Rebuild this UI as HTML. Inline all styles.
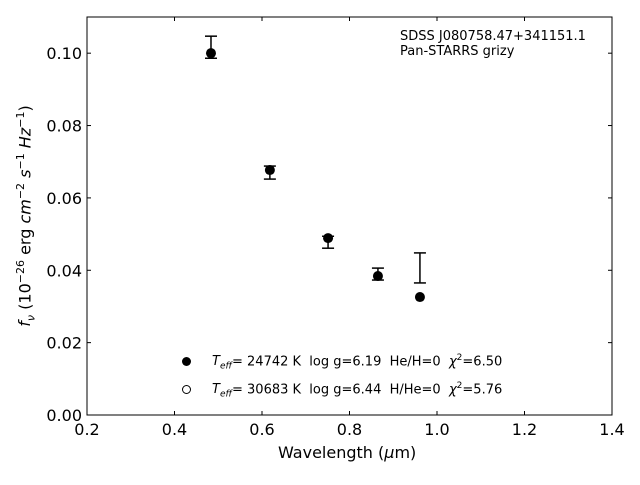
<!DOCTYPE html>
<html><head><meta charset="utf-8"><style>
body{margin:0;background:#fff;}
svg{font-family:"DejaVu Sans","Liberation Sans",sans-serif;}
</style></head><body>
<svg id="chart" width="640" height="480"></svg>
<script>
const wavelengths=[0.4834,0.618,0.751,0.865,0.961];
const modelFlux=[0.100,0.0677,0.0489,0.0384,0.0326];
const errLow=[0.0986,0.0652,0.0461,0.0373,0.0365];
const errHigh=[0.1047,0.0688,0.0494,0.0406,0.0448];
const xTicks=[0.2,0.4,0.6,0.8,1.0,1.2,1.4];
const xTickLabels=["0.2","0.4","0.6","0.8","1.0","1.2","1.4"];
const yTicks=[0,0.02,0.04,0.06,0.08,0.10];
const yTickLabels=["0.00","0.02","0.04","0.06","0.08","0.10"];

const NS="http://www.w3.org/2000/svg";
const svg=document.getElementById('chart');
const L=87,R=612,T=17,B=415;
const xs=v=>L+(v-0.2)/1.2*(R-L);
const ys=v=>B-v/0.11*(B-T);
function mk(tag,attrs,parent){const e=document.createElementNS(NS,tag);for(const k in attrs)e.setAttribute(k,attrs[k]);(parent||svg).appendChild(e);return e;}

const frame=mk('rect',{x:L,y:T,width:R-L,height:B-T,fill:'none',stroke:'#000','stroke-width':1});



xTicks.forEach((t,i)=>{
  const x=xs(t);
  mk('line',{x1:x,x2:x,y1:B,y2:B-4,stroke:'#000'});
  mk('line',{x1:x,x2:x,y1:T,y2:T+4,stroke:'#000'});
  const tx=mk('text',{x:x,y:B+20,'text-anchor':'middle','font-size':16});
  tx.textContent=xTickLabels[i];
  
  
});
yTicks.forEach((t,i)=>{
  const y=ys(t);
  mk('line',{x1:L,x2:L+4,y1:y,y2:y,stroke:'#000'});
  mk('line',{x1:R,x2:R-4,y1:y,y2:y,stroke:'#000'});
  const tx=mk('text',{x:L-5,y:y+6,'text-anchor':'end','font-size':16});
  tx.textContent=yTickLabels[i];
  
  
});

wavelengths.forEach((w,i)=>{
  const x=xs(w);
  const g=mk('g',{});
  
  
  mk('line',{x1:x,x2:x,y1:ys(errLow[i]),y2:ys(errHigh[i]),stroke:'#000','stroke-width':1.5},g);
  mk('line',{x1:x-6,x2:x+6,y1:ys(errLow[i]),y2:ys(errLow[i]),stroke:'#000','stroke-width':1.5},g);
  mk('line',{x1:x-6,x2:x+6,y1:ys(errHigh[i]),y2:ys(errHigh[i]),stroke:'#000','stroke-width':1.5},g);
  const c=mk('circle',{cx:x,cy:ys(modelFlux[i]),r:5,fill:'#000'});
  
  
});
</script>
<div style="position:absolute;left:0;top:0;width:640px;height:480px;pointer-events:none;font-family:'DejaVu Sans','Liberation Sans',sans-serif;">
  <div style="position:absolute;left:400px;top:29px;font-size:13px;line-height:15px;">SDSS J080758.47+341151.1<br>Pan-STARRS grizy</div>
  <div style="position:absolute;left:278px;top:443px;font-size:16px;">Wavelength (<i>μ</i>m)</div>
  <div style="position:absolute;left:26px;top:216px;font-size:16px;white-space:nowrap;transform:translate(-50%,-50%) rotate(-90deg);transform-origin:center;">
    <i>f<sub style="font-size:11px">ν</sub></i> (10<sup style="font-size:11px">−26</sup> erg <i>cm</i><sup style="font-size:11px">−2</sup> <i>s</i><sup style="font-size:11px">−1</sup> <i>Hz</i><sup style="font-size:11px">−1</sup>)</div>
  <div style="position:absolute;left:180px;top:352px;font-size:13px;">
    <div style="position:relative;height:28px;">
      <span style="position:absolute;left:2px;top:5px;width:9px;height:9px;border-radius:50%;background:#000;"></span>
      <span style="position:absolute;left:32px;top:1px;white-space:nowrap;"><i>T<sub style="font-size:9px">eff</sub></i>= 24742 K&nbsp; log g=6.19&nbsp; He/H=0&nbsp; <i>χ</i><sup style="font-size:9px">2</sup>=6.50</span>
    </div>
    <div style="position:relative;height:28px;">
      <span style="position:absolute;left:2px;top:5px;width:7px;height:7px;border-radius:50%;border:1px solid #000;"></span>
      <span style="position:absolute;left:32px;top:1px;white-space:nowrap;"><i>T<sub style="font-size:9px">eff</sub></i>= 30683 K&nbsp; log g=6.44&nbsp; H/He=0&nbsp; <i>χ</i><sup style="font-size:9px">2</sup>=5.76</span>
    </div>
  </div>
</div>
</body></html>
